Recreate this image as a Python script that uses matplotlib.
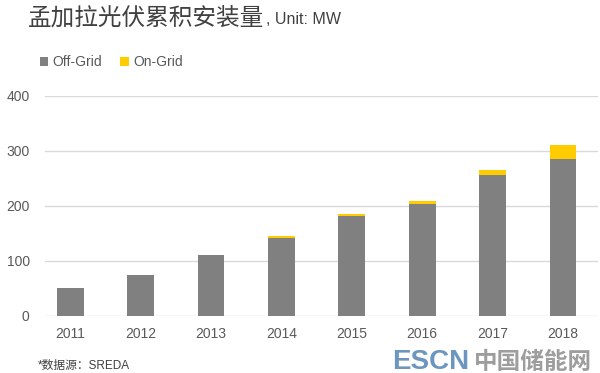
import matplotlib
matplotlib.use("Agg")
import matplotlib.pyplot as plt
import numpy as np

plt.rcParams['font.family'] = ['Liberation Sans', 'Noto Sans CJK SC', 'DejaVu Sans']

years = ["2011", "2012", "2013", "2014", "2015", "2016", "2017", "2018"]
off_grid = [50, 75, 110, 142, 182, 204, 257, 285]
on_grid = [0, 0, 0, 3, 3, 5, 8, 25]
yticks = [0, 100, 200, 300, 400]

fig = plt.figure(figsize=(6.0, 3.73), dpi=100)
ax = fig.add_axes([0.075, 0.153, 0.922, 0.590])

x = np.arange(len(years))
w = 0.38
ax.bar(x, off_grid, w, color="#808080", label="Off-Grid", zorder=3)
ax.bar(x, on_grid, w, bottom=off_grid, color="#FFCC00", label="On-Grid", zorder=3)

ax.set_ylim(0, 400)
ax.set_xlim(-0.36, 7.5)
ax.set_yticks(yticks)
ax.set_xticks(x)
ax.set_xticklabels(years)
ax.grid(axis="y", color="#d9d9d9", linewidth=1, zorder=0)
for s in ax.spines.values():
    s.set_visible(False)
ax.tick_params(axis="both", length=0, colors="#595959", labelsize=10)
ax.tick_params(axis="y", pad=11)
ax.tick_params(axis="x", pad=8)

t1 = fig.text(0.047, 0.935, "孟加拉光伏累积安装量", fontsize=17, color="#404040",
              family=['Noto Sans CJK SC'], fontweight="medium", va="baseline")
fig.canvas.draw()
bb = t1.get_window_extent(renderer=fig.canvas.get_renderer())
fig.text(bb.x1 / fig.bbox.width + 0.002, 0.935, ", Unit: MW", fontsize=11.5,
         color="#404040", va="baseline")

fig.legend(loc="upper left", bbox_to_anchor=(0.045, 0.885), ncol=2, frameon=False,
           fontsize=10, handlelength=0.6, handleheight=0.6, handletextpad=0.35,
           columnspacing=1.3, labelcolor="#595959")

fig.text(0.063, 0.012, "*数据源：SREDA", fontsize=8.5, color="#404040")

fig.text(0.653, 0.012, "ESCN", fontsize=20, color="#5b8bb8", fontweight="bold",
         family=['Liberation Sans Narrow', 'Liberation Sans'], alpha=0.9)
fig.text(0.79, 0.01, "中国储能网", fontsize=17, color="#8c8c8c", fontweight="bold",
         family=['Noto Sans CJK SC'], alpha=0.85)

fig.savefig("out.png", dpi=100)
